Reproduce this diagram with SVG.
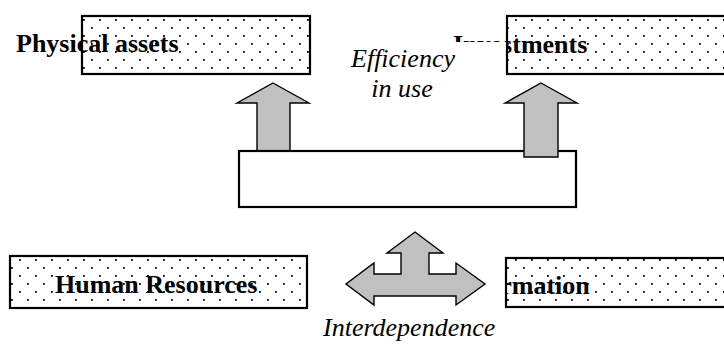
<svg xmlns="http://www.w3.org/2000/svg" width="724" height="347" viewBox="0 0 724 347">
  <style>
    .box { fill: url(#dots); stroke: #000; stroke-width: 2.2; }
    .plain { fill: #fff; stroke: #000; stroke-width: 2.2; }
    .lbl { font-family: "Liberation Serif", "Times New Roman", serif; font-weight: bold; font-size: 26px; fill: #000; }
    .ital { font-family: "Liberation Serif", "Times New Roman", serif; font-style: italic; font-size: 26px; fill: #000; }
    .arrow { fill: #c0c0c0; stroke: #000; stroke-width: 1.4; stroke-linejoin: miter; }
  </style>
  <defs>
    <pattern id="dots" x="0" y="0" width="16" height="16" patternUnits="userSpaceOnUse">
      <rect width="16" height="16" fill="#fff"/>
      <rect x="3" y="3" width="1.8" height="1.8" fill="#000"/>
      <rect x="11" y="11" width="1.8" height="1.8" fill="#000"/>
    </pattern>
    <clipPath id="clipInv">
      <rect x="507" y="0" width="230" height="100"/>
      <rect x="0" y="0" width="724" height="42"/>
    </clipPath>
    <clipPath id="clipInfo">
      <rect x="506" y="240" width="230" height="80"/>
    </clipPath>
  </defs>

  <g id="physical-assets">
    <rect class="box" x="82" y="16" width="228" height="58"/>
    <text class="lbl" x="16" y="52">Physical assets</text>
  </g>

  <g id="investments">
    <rect class="box" x="507" y="16" width="230" height="58"/>
    <text class="lbl" x="453" y="53" clip-path="url(#clipInv)">Investments</text>
  </g>

  <g id="efficiency-label">
    <text class="ital" x="403" y="67" text-anchor="middle">Efficiency</text>
    <text class="ital" x="402" y="97" text-anchor="middle">in use</text>
  </g>

  <g id="connectors">
    <polygon class="arrow" points="273,83 309,103 290,103 290,151 257,151 257,103 237,103"/>
  </g>

  <g id="center-box">
    <rect class="plain" x="239" y="151" width="337" height="56"/>
  </g>

  <g id="connectors-2">
    <polygon class="arrow" points="541,83 577,103 558,103 558,157 524,157 524,103 505,103"/>
    <polygon class="arrow" points="415,232 443,253 429,253 429,274 456,274 456,263 485,284 456,305 456,296 374,296 374,305 346,284 374,263 374,274 401,274 401,253 387,253"/>
  </g>

  <g id="human-resources">
    <rect class="box" x="10" y="256" width="297" height="52"/>
    <text class="lbl" x="55" y="293">Human Resources</text>
  </g>

  <g id="information">
    <rect class="box" x="506" y="258" width="230" height="49"/>
    <text class="lbl" x="454" y="294" clip-path="url(#clipInfo)">Information</text>
  </g>

  <g id="interdependence-label">
    <text class="ital" x="323" y="336">Interdependence</text>
  </g>
</svg>
